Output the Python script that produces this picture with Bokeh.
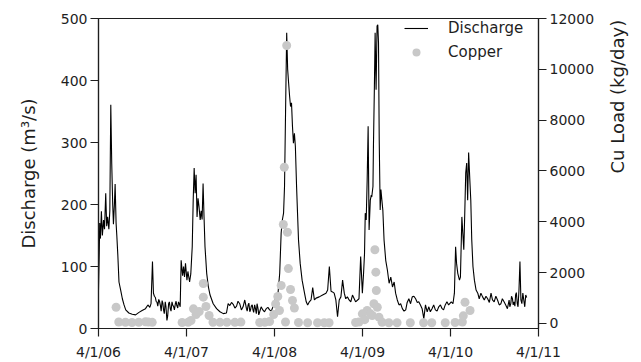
import math
import pandas as pd
from bokeh.plotting import figure
from bokeh.models import (Range1d, LinearAxis, FixedTicker, CustomJSTickFormatter,
                          Legend, LegendItem, ColumnDataSource)
from bokeh.embed import file_html
from bokeh.resources import INLINE

# ---------------- data ----------------
discharge_dates = [
    "2006-04-01", "2006-04-04", "2006-04-06", "2006-04-09", "2006-04-13", "2006-04-17",
    "2006-04-22", "2006-04-26", "2006-05-01", "2006-05-05", "2006-05-09", "2006-05-14",
    "2006-05-18", "2006-05-22", "2006-05-26", "2006-05-30", "2006-06-02", "2006-06-06",
    "2006-06-09", "2006-06-13", "2006-06-16", "2006-06-20", "2006-06-25", "2006-07-02",
    "2006-07-09", "2006-07-16", "2006-07-23", "2006-08-05", "2006-08-19", "2006-09-02",
    "2006-09-16", "2006-09-29", "2006-10-13", "2006-10-23", "2006-10-31", "2006-11-05",
    "2006-11-11", "2006-11-15", "2006-11-23", "2006-11-30", "2006-12-07", "2006-12-14",
    "2006-12-21", "2006-12-27", "2007-01-03", "2007-01-10", "2007-01-17", "2007-01-24",
    "2007-01-31", "2007-02-07", "2007-02-14", "2007-02-20", "2007-02-27", "2007-03-06",
    "2007-03-10", "2007-03-16", "2007-03-20", "2007-03-24", "2007-03-28", "2007-04-03",
    "2007-04-07", "2007-04-14", "2007-04-19", "2007-04-25", "2007-04-29", "2007-05-03",
    "2007-05-07", "2007-05-11", "2007-05-15", "2007-05-19", "2007-05-23", "2007-05-28",
    "2007-06-01", "2007-06-05", "2007-06-09", "2007-06-13", "2007-06-17", "2007-06-24",
    "2007-07-01", "2007-07-08", "2007-07-21", "2007-08-04", "2007-08-18", "2007-09-01",
    "2007-09-14", "2007-09-21", "2007-09-28", "2007-10-12", "2007-10-26", "2007-11-08",
    "2007-11-22", "2007-11-29", "2007-12-06", "2007-12-13", "2007-12-20", "2007-12-26",
    "2008-01-02", "2008-01-09", "2008-01-16", "2008-01-23", "2008-01-30", "2008-02-12",
    "2008-02-26", "2008-03-11", "2008-03-25", "2008-03-31", "2008-04-08", "2008-04-15",
    "2008-04-22", "2008-04-28", "2008-05-03", "2008-05-08", "2008-05-12", "2008-05-17",
    "2008-05-21", "2008-05-25", "2008-05-29", "2008-06-02", "2008-06-06", "2008-06-10",
    "2008-06-14", "2008-06-18", "2008-06-22", "2008-06-26", "2008-07-01", "2008-07-05",
    "2008-07-09", "2008-07-16", "2008-07-24", "2008-08-03", "2008-08-10", "2008-08-16",
    "2008-08-23", "2008-08-30", "2008-09-06", "2008-09-13", "2008-09-20", "2008-10-03",
    "2008-10-17", "2008-10-31", "2008-11-07", "2008-11-14", "2008-11-21", "2008-11-27",
    "2008-12-04", "2008-12-11", "2008-12-18", "2008-12-25", "2009-01-01", "2009-01-08",
    "2009-01-15", "2009-01-21", "2009-01-28", "2009-02-04", "2009-02-11", "2009-02-18",
    "2009-03-03", "2009-03-17", "2009-03-24", "2009-03-31", "2009-04-05", "2009-04-09",
    "2009-04-12", "2009-04-16", "2009-04-20", "2009-04-24", "2009-04-28", "2009-05-03",
    "2009-05-07", "2009-05-09", "2009-05-14", "2009-05-16", "2009-05-20", "2009-05-23",
    "2009-05-27", "2009-05-31", "2009-06-03", "2009-06-06", "2009-06-09", "2009-06-13",
    "2009-06-16", "2009-06-20", "2009-06-24", "2009-06-29", "2009-07-06", "2009-07-13",
    "2009-07-20", "2009-07-27", "2009-08-03", "2009-08-10", "2009-08-16", "2009-08-23",
    "2009-08-30", "2009-09-13", "2009-09-27", "2009-10-10", "2009-10-24", "2009-11-07",
    "2009-11-20", "2009-12-04", "2009-12-11", "2009-12-18", "2009-12-25", "2010-01-01",
    "2010-01-14", "2010-01-28", "2010-02-11", "2010-02-25", "2010-03-10", "2010-03-24",
    "2010-04-04", "2010-04-11", "2010-04-17", "2010-04-22", "2010-04-26", "2010-05-01",
    "2010-05-08", "2010-05-12", "2010-05-18", "2010-05-22", "2010-05-26", "2010-05-30",
    "2010-06-03", "2010-06-07", "2010-06-11", "2010-06-15", "2010-06-20", "2010-06-24",
    "2010-06-28", "2010-07-03", "2010-07-09", "2010-07-16", "2010-07-23", "2010-07-29",
    "2010-08-05", "2010-08-12", "2010-08-19", "2010-09-02", "2010-09-16", "2010-09-22",
    "2010-09-29", "2010-10-13", "2010-10-27", "2010-11-09", "2010-11-23", "2010-11-30",
    "2010-12-07", "2010-12-14", "2010-12-21", "2010-12-27", "2011-01-03", "2011-01-10",
    "2011-01-14", "2011-01-18", "2011-01-22", "2011-01-26", "2011-01-31", "2011-02-07",
    "2011-02-11",
]
discharge_m3s = [
    62, 120, 170, 145, 189, 150,
    175, 160, 218, 165, 180, 160,
    190, 361, 265, 200, 168, 200,
    233, 170, 150, 120, 75, 62,
    48, 38, 30, 25, 23, 22,
    26, 29, 32, 38, 34, 40,
    108, 57, 50, 42, 47, 37,
    45, 30, 43, 13, 40, 32,
    43, 35, 40, 37, 43, 35,
    110, 85, 100, 83, 105, 78,
    92, 75, 88, 132, 207, 259,
    218, 248, 180, 210, 197, 175,
    190, 176, 234, 180, 132, 89,
    67, 54, 40, 32, 27, 24,
    25, 40, 37, 39, 36, 40,
    35, 46, 32, 38, 27, 36,
    30, 38, 24, 32, 27, 30,
    32, 30, 35, 43, 52, 57,
    89, 154, 175, 186, 229, 369,
    477, 418, 396, 375, 358, 364,
    326, 299, 315, 294, 229, 186,
    143, 105, 78, 57, 43, 38,
    43, 46, 66, 46, 49, 51,
    54, 57, 62, 100, 60, 59,
    57, 46, 19, 46, 51, 78,
    57, 48, 51, 46, 43, 54,
    43, 48, 116, 57, 89, 121,
    186, 175, 240, 326, 159, 207,
    215, 212, 229, 294, 391, 477,
    385, 488, 490, 461, 304, 191,
    224, 207, 191, 143, 110, 94,
    73, 83, 67, 75, 57, 46,
    38, 32, 30, 48, 51, 48,
    43, 32, 16, 38, 27, 35,
    32, 30, 35, 32, 38, 38,
    43, 40, 57, 132, 105, 89,
    78, 83, 180, 153, 127, 186,
    251, 267, 207, 284, 240, 207,
    143, 100, 78, 62, 57, 48,
    57, 51, 46, 48, 57, 46,
    43, 46, 40, 43, 32, 46,
    40, 48, 43, 54, 40, 62,
    108, 46, 40, 57, 43, 54,
    50,
]

# extra low-flow readings (the jagged base-flow stretches)
baseflow_dates = [
    "2006-11-19", "2006-11-26", "2006-12-03", "2006-12-10", "2006-12-17", "2006-12-24",
    "2006-12-30", "2007-01-06", "2007-01-13", "2007-01-20", "2007-01-27", "2007-02-03",
    "2007-02-10", "2007-02-17", "2007-02-24", "2007-03-02",
    "2007-10-05", "2007-10-19", "2007-11-01", "2007-11-15", "2007-12-02", "2007-12-09",
    "2007-12-16", "2007-12-23", "2007-12-30", "2008-01-05", "2008-01-12", "2008-01-19",
    "2008-01-26", "2008-02-05", "2008-02-19", "2008-03-04", "2008-03-18",
    "2009-09-06", "2009-09-20", "2009-10-03", "2009-10-17", "2009-10-31", "2009-11-14",
    "2009-11-27", "2010-01-07", "2010-01-21", "2010-02-04", "2010-02-18", "2010-03-03",
    "2010-03-17",
    "2010-08-26", "2010-09-09", "2010-10-06", "2010-10-20", "2010-11-02", "2010-11-16",
    "2010-12-03", "2010-12-10", "2010-12-17", "2010-12-24", "2010-12-30", "2011-01-06",
    "2011-02-03",
]
baseflow_m3s = [
    52, 44, 36, 44, 28, 41,
    24, 35, 20, 43, 28, 38,
    30, 44, 33, 40,
    42, 33, 44, 30, 40, 28,
    41, 30, 38, 26, 33, 40,
    22, 35, 27, 34, 28,
    40, 28, 42, 40, 52, 42,
    38, 27, 38, 28, 38, 30,
    43,
    52, 42, 52, 38, 48, 38,
    35, 52, 38, 36, 58, 35,
    35,
]

copper_dates = [
    "2006-06-13", "2006-06-24", "2006-07-22", "2006-08-18", "2006-09-15", "2006-10-13",
    "2006-10-25", "2006-11-10",
    "2007-03-14", "2007-04-08", "2007-04-20", "2007-04-30", "2007-05-11", "2007-05-24",
    "2007-06-10", "2007-06-10", "2007-06-21", "2007-07-04", "2007-07-20", "2007-08-18",
    "2007-09-16", "2007-10-19", "2007-11-13",
    "2008-01-30", "2008-02-20", "2008-03-11", "2008-03-28", "2008-04-05", "2008-04-14",
    "2008-04-21", "2008-04-28", "2008-05-07", "2008-05-11", "2008-05-16", "2008-05-21",
    "2008-05-24", "2008-05-28", "2008-06-06", "2008-06-14", "2008-06-22", "2008-07-09",
    "2008-08-16", "2008-09-26", "2008-10-24", "2008-11-13",
    "2009-03-03", "2009-03-17", "2009-03-31", "2009-04-10", "2009-04-20", "2009-05-04",
    "2009-05-11", "2009-05-18", "2009-05-22", "2009-05-26", "2009-05-28", "2009-06-01",
    "2009-06-08", "2009-06-21", "2009-07-19", "2009-08-22", "2009-10-16", "2009-12-10",
    "2010-01-13", "2010-03-10", "2010-04-20", "2010-05-20", "2010-05-24", "2010-05-31",
    "2010-06-21",
]
copper_kg_day = [
    641, 60, 50, 40, 50, 70,
    55, 45,
    40, 50, 120, 577, 354, 470,
    1574, 1035, 670, 315, 50, 45,
    50, 45, 55,
    40, 45, 80, 354, 770, 1060,
    510, 1495, 3895, 6149, 60, 10936,
    3592, 2160, 1338, 905, 610, 40,
    30, 30, 30, 30,
    40, 60, 380, 150, 511, 380,
    315, 775, 2900, 2020, 1300, 641,
    248, 51, 30, 30, 30, 30,
    30, 30, 40, 60, 300, 838,
    511,
]

year_ticks = ["2006-04-01", "2007-04-01", "2008-04-01", "2009-04-01", "2010-04-01", "2011-04-01"]
discharge_ticks = [0, 100, 200, 300, 400, 500]
copper_ticks = [0, 2000, 4000, 6000, 8000, 10000, 12000]

FONT = "DejaVu Sans"
INK = "#1e1e1e"

flow = pd.DataFrame({
    "date": pd.to_datetime(discharge_dates + baseflow_dates),
    "q": discharge_m3s + baseflow_m3s,
}).sort_values("date")
flow_src = ColumnDataSource(flow)
cu_src = ColumnDataSource(dict(date=pd.to_datetime(copper_dates), load=copper_kg_day))
tick_ms = [int(pd.Timestamp(t).value // 10**6) for t in year_ticks]

p = figure(width=641, height=362, x_axis_type="datetime",
           x_range=Range1d(pd.Timestamp(year_ticks[0]), pd.Timestamp(year_ticks[-1])),
           y_range=Range1d(0, 500),
           output_backend="svg", toolbar_location=None,
           min_border_left=98, min_border_right=100, min_border_top=18, min_border_bottom=34,
           background_fill_color="white", border_fill_color="white")

p.extra_y_ranges = {"cu": Range1d(-197, 12000)}
right_axis = LinearAxis(y_range_name="cu", ticker=FixedTicker(ticks=copper_ticks),
                        axis_label="Cu Load (kg/day)")
p.add_layout(right_axis, "right")

line = p.line("date", "q", source=flow_src, line_color="black", line_width=1.1)
pts = p.scatter("date", "load", source=cu_src, y_range_name="cu", size=9,
                fill_color="#c8c8c8", line_color=None)

p.xaxis.ticker = FixedTicker(ticks=tick_ms)
p.xaxis.formatter = CustomJSTickFormatter(code="""
const d = new Date(tick);
return (d.getUTCMonth() + 1) + "/" + d.getUTCDate() + "/" + String(d.getUTCFullYear()).slice(2);
""")
p.yaxis[0].ticker = FixedTicker(ticks=discharge_ticks)
p.yaxis[0].axis_label = "Discharge (m³/s)"

for ax in [p.xaxis[0], p.yaxis[0], right_axis]:
    ax.axis_line_color = INK
    ax.axis_line_width = 1.2
    ax.major_tick_line_color = INK
    ax.major_tick_line_width = 1.2
    ax.major_tick_in = 0
    ax.major_tick_out = 8
    ax.minor_tick_line_color = None
    ax.major_label_text_font = FONT
    ax.major_label_text_font_size = "14px"
    ax.major_label_text_color = INK
    ax.major_label_standoff = 3
    ax.axis_label_text_font = FONT
    ax.axis_label_text_font_size = "18px"
    ax.axis_label_text_font_style = "normal"
    ax.axis_label_text_color = INK

p.xaxis[0].major_label_standoff = 7
p.yaxis[0].axis_label_standoff = 19
right_axis.axis_label_standoff = 20
right_axis.axis_label_orientation = math.pi / 2

p.xgrid.visible = False
p.ygrid.visible = False
p.outline_line_color = INK
p.outline_line_width = 1.2

legend = Legend(items=[LegendItem(label="Discharge", renderers=[line]),
                       LegendItem(label="Copper", renderers=[pts])],
                location="top_right", margin=0, padding=5, spacing=4,
                glyph_width=24, glyph_height=20, label_standoff=20, label_width=90,
                border_line_color=None, background_fill_alpha=0,
                label_text_font=FONT, label_text_font_size="15px", label_text_color=INK)
p.add_layout(legend)

open("out.html", "w").write(file_html(p, INLINE))
